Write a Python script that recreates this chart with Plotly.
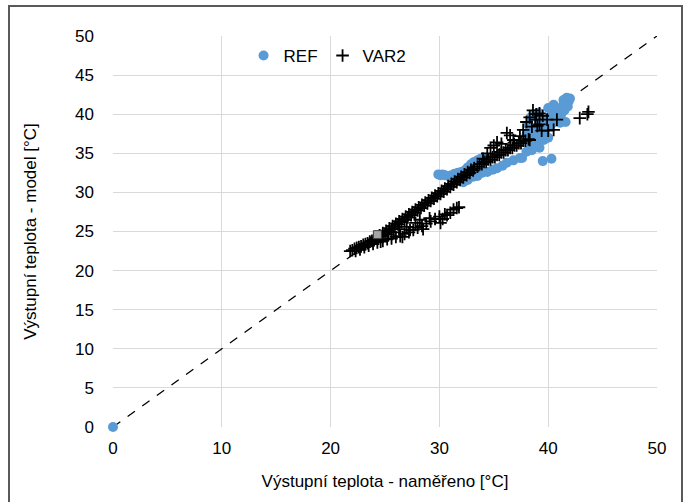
import plotly.graph_objects as go

# REF series (blue circles)
ref_x = [0.0,
         29.9, 30.1, 30.3, 30.5, 30.8, 31.1, 31.4, 31.7, 32.0, 32.3, 32.6, 32.9, 33.2, 33.5, 33.8, 34.1, 34.4,
         32.2, 32.6, 33.1, 33.5, 33.9, 34.4, 34.9, 35.3, 35.8, 36.2, 36.8, 37.4, 37.6, 38.0, 38.5, 39.2, 39.5, 40.3,
         38.0, 38.5, 38.9, 39.2, 39.5, 39.8, 40.1, 40.4, 40.7, 41.0, 41.3, 41.6, 41.9, 42.0, 41.8, 41.5, 41.2,
         40.6, 40.2, 39.7, 39.3, 39.0, 38.7, 38.3, 38.4, 38.7, 39.1, 40.0, 40.5, 41.0, 41.1, 39.6, 40.0, 41.6,
         41.4, 41.7, 40.8, 39.0, 38.2]
ref_y = [0.0,
         32.3, 32.2, 32.3, 32.2, 32.1, 32.2, 32.4, 32.5, 32.6, 32.8, 33.2, 33.6, 33.9, 34.1, 34.3, 34.4, 34.2,
         31.3, 31.6, 32.0, 32.1, 32.5, 32.6, 32.9, 33.1, 33.4, 33.8, 34.1, 34.4, 34.4, 35.2, 35.4, 35.7, 34.0, 34.3,
         37.3, 37.6, 38.2, 38.5, 38.9, 39.3, 39.6, 39.9, 40.3, 40.6, 41.0, 41.3, 41.7, 42.0, 41.0, 40.5, 40.0,
         39.0, 38.5, 37.8, 37.3, 36.8, 36.5, 36.0, 39.6, 40.0, 40.2, 40.8, 41.2, 39.3, 38.9, 36.7, 37.0, 39.0,
         41.8, 42.1, 39.8, 39.6, 38.6]

# VAR2 series (black crosses)
var_x = [21.8, 22.0, 22.2, 22.4, 22.6, 22.8, 23.0, 23.2, 23.4, 23.6, 23.8, 24.0, 24.2,
         22.3, 22.7, 23.1, 23.5, 23.9, 24.3, 24.6,
         24.5, 24.8, 25.1, 25.4, 25.7, 26.0, 26.3, 26.6, 26.9, 27.2, 27.5, 27.8, 28.1, 28.4, 28.7,
         29.0, 29.3, 29.6, 29.9, 30.2, 30.5, 30.8, 31.1, 31.4, 31.7, 32.0, 32.3, 32.6, 32.9, 33.2,
         24.7, 25.0, 25.3, 25.6, 25.9, 26.2, 26.5, 26.8, 27.1, 27.4, 27.7, 28.0, 28.3, 28.6, 28.9,
         29.2, 29.5, 29.8, 30.1, 30.4, 30.7, 31.0, 31.3, 31.6, 31.9, 32.2, 32.5, 32.8, 33.1,
         33.5, 33.9, 34.3, 34.7, 35.1, 35.5, 35.9, 36.3, 36.7, 37.1, 37.5, 37.9, 38.2,
         33.7, 34.1, 34.5, 34.9, 35.3, 35.7, 36.1, 36.5, 36.9, 37.3, 37.7,
         34.0, 34.4, 34.7, 35.0, 35.3, 35.7, 36.2, 36.5, 36.8, 37.4, 37.7, 38.3, 38.0, 38.3, 38.6,
         38.9, 39.2, 38.8, 39.5, 39.9, 39.0, 39.4, 40.0, 40.5, 40.8, 42.9, 43.7, 43.6, 39.2, 38.5,
         24.8, 25.2, 25.6, 26.0, 26.4, 26.8, 27.2, 27.6, 28.0, 28.4, 28.8, 29.2, 29.6, 30.0,
         25.3, 25.8, 26.3, 26.6, 27.0, 27.3, 27.8, 28.2, 28.5, 29.1, 30.1, 30.5, 30.7, 31.0, 31.3,
         31.6, 31.8, 30.3]
var_y = [22.5, 22.6, 22.8, 22.9, 23.0, 23.1, 23.3, 23.4, 23.5, 23.7, 23.8, 24.0, 24.2,
         22.5, 22.7, 23.0, 23.2, 23.4, 23.6, 23.7,
         24.5, 24.8, 25.1, 25.4, 25.7, 26.0, 26.3, 26.6, 26.9, 27.2, 27.5, 27.8, 28.1, 28.4, 28.7,
         29.0, 29.3, 29.6, 29.9, 30.2, 30.5, 30.8, 31.1, 31.4, 31.7, 32.0, 32.3, 32.6, 32.9, 33.1,
         24.4, 24.7, 25.0, 25.3, 25.6, 25.9, 26.2, 26.5, 26.8, 27.1, 27.4, 27.7, 28.0, 28.3, 28.6,
         28.9, 29.2, 29.5, 29.8, 30.1, 30.4, 30.7, 31.0, 31.3, 31.6, 31.9, 32.2, 32.5, 32.8,
         33.3, 33.6, 33.9, 34.2, 34.5, 34.8, 35.1, 35.4, 35.7, 36.0, 36.3, 36.6, 36.8,
         33.6, 33.9, 34.2, 34.5, 34.8, 35.1, 35.4, 35.7, 36.0, 36.3, 36.6,
         34.3, 35.0, 35.7, 36.0, 36.4, 36.2, 37.6, 37.3, 36.7, 37.2, 38.0, 36.7, 39.0, 39.6, 40.5,
         40.0, 40.1, 39.3, 39.8, 39.3, 38.5, 37.9, 37.9, 38.0, 39.3, 39.5, 40.3, 40.0, 38.7, 38.4,
         23.8, 24.0, 24.1, 24.3, 24.4, 24.7, 24.9, 25.2, 25.5, 25.7, 26.0, 26.3, 26.6, 26.9,
         24.6, 24.9, 25.3, 24.3, 25.6, 25.2, 26.1, 26.5, 25.3, 26.7, 26.1, 27.2, 27.1, 27.4, 27.8,
         28.0, 28.1, 26.6]

# single grey square marker
sq_x = [24.3]
sq_y = [24.6]

# diagonal reference line
diag_x = [0, 50]
diag_y = [0, 50]

x_ticks = [0, 10, 20, 30, 40, 50]
y_ticks = [0, 5, 10, 15, 20, 25, 30, 35, 40, 45, 50]

FONT = "Liberation Sans, Arial, sans-serif"

fig = go.Figure()
fig.add_trace(go.Scatter(x=diag_x, y=diag_y, mode="lines",
                         line=dict(color="black", width=1.3, dash="dash"),
                         showlegend=False, hoverinfo="skip"))
fig.add_trace(go.Scatter(x=ref_x, y=ref_y, mode="markers", name="REF", cliponaxis=False,
                         marker=dict(symbol="circle", size=10, color="#5b9bd5")))
fig.add_trace(go.Scatter(x=var_x, y=var_y, mode="markers", name="VAR2",
                         marker=dict(symbol="cross-thin", size=9, color="black",
                                     line=dict(color="black", width=1.8))))
fig.add_trace(go.Scatter(x=sq_x, y=sq_y, mode="markers", showlegend=False,
                         marker=dict(symbol="square", size=8, color="#a5a5a5",
                                     line=dict(color="#404040", width=1))))

axis_common = dict(showgrid=True, gridcolor="#d9d9d9", gridwidth=1,
                   zeroline=False, showline=False, ticks="",
                   tickfont=dict(family=FONT, size=17, color="black"),
                   fixedrange=True)

fig.update_layout(
    width=690, height=502,
    margin=dict(l=113, r=33, t=36, b=75),
    paper_bgcolor="white", plot_bgcolor="white",
    font=dict(family=FONT, color="black"),
    xaxis=dict(range=[0, 50], tickvals=x_ticks, ticktext=[str(v) for v in x_ticks],
               ticklabelstandoff=9,
               title=dict(text="Výstupní teplota - naměřeno [°C]", font=dict(family=FONT, size=17), standoff=18),
               **axis_common),
    yaxis=dict(range=[0, 50], tickvals=y_ticks, ticktext=[str(v) for v in y_ticks],
               ticklabelstandoff=18,
               title=dict(text="Výstupní teplota - model [°C]", font=dict(family=FONT, size=17), standoff=34),
               **axis_common),
    legend=dict(orientation="h", x=0.24, y=0.995, xanchor="left", yanchor="top",
                bgcolor="rgba(0,0,0,0)", font=dict(family=FONT, size=17),
                itemwidth=30, tracegroupgap=0),
    showlegend=True,
)
# outer chart border
fig.add_shape(type="rect", xref="paper", yref="paper",
              x0=(9 - 113) / 544, x1=(682 - 113) / 544,
              y0=-0.3, y1=(427 - 6) / 391,
              line=dict(color="#595959", width=2), fillcolor="rgba(0,0,0,0)", layer="below")

fig.write_html("out.html")
